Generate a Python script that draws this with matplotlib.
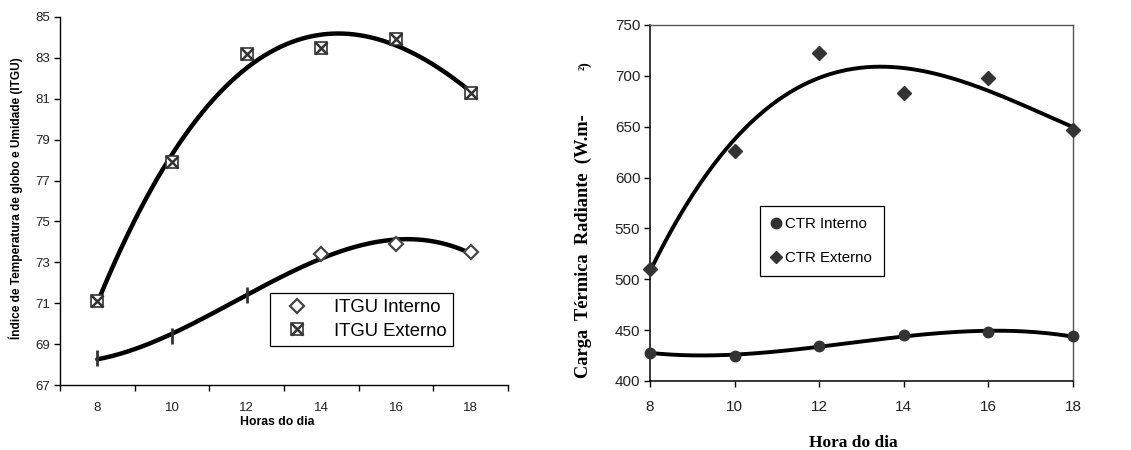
import numpy as np
import matplotlib
matplotlib.use("Agg")
import matplotlib.pyplot as plt
from matplotlib.legend_handler import HandlerTuple
from matplotlib.lines import Line2D

hours = [8, 10, 12, 14, 16, 18]

# Left chart: ITGU
itgu_interno = [68.3, 69.4, 71.4, 73.4, 73.9, 73.5]
itgu_externo = [71.1, 77.9, 83.2, 83.5, 83.9, 81.3]
itgu_yticks = [67, 69, 71, 73, 75, 77, 79, 81, 83, 85]

# Right chart: CTR
ctr_interno = [428, 425, 434, 445, 448, 444]
ctr_externo = [510, 626, 722, 683, 698, 647]
ctr_yticks = [400, 450, 500, 550, 600, 650, 700, 750]

W, H = 1131, 450
fig = plt.figure(figsize=(W / 100, H / 100), dpi=100)

sans = ["Liberation Sans", "DejaVu Sans"]
serif = ["Liberation Serif", "DejaVu Serif"]

def trend(x, y, deg=3):
    c = np.polyfit(x, y, deg)
    xs = np.linspace(min(x), max(x), 200)
    return xs, np.polyval(c, xs)

# ---------- Left axes ----------
ax1 = fig.add_axes([60 / W, 1 - 385 / H, 448 / W, 368 / H])
x = np.array(hours, dtype=float)
xs, ys = trend(x, itgu_externo)
ax1.plot(xs, ys, color="black", lw=3.2, solid_capstyle="round", zorder=2)
xs, ys = trend(x, itgu_interno)
ax1.plot(xs, ys, color="black", lw=3.2, solid_capstyle="round", zorder=2)

# Interno markers: diamonds (first three rendered as vertical bars in the reference)
ax1.plot(x[:3], itgu_interno[:3], ls="none", marker="|", ms=11, mew=2.0, color="#333333", zorder=3)
ax1.plot(x[3:], itgu_interno[3:], ls="none", marker="D", ms=7.5, mfc="white", mec="#444444", mew=1.6, zorder=3)
# Externo markers: square with X
ax1.plot(x, itgu_externo, ls="none", marker="s", ms=8, mfc="white", mec="#333333", mew=1.2, zorder=3)
ax1.plot(x, itgu_externo, ls="none", marker="x", ms=8, mec="#333333", mew=1.8, zorder=4)

ax1.set_xlim(7, 19)
ax1.set_ylim(67, 85)
ax1.set_yticks(itgu_yticks)
ax1.set_xticks([7, 9, 11, 13, 15, 17, 19])
ax1.set_xticklabels([])
ax1.set_xticks(hours, minor=True)
ax1.set_xticklabels([str(h) for h in hours], minor=True)
ax1.tick_params(axis="x", which="major", direction="out", length=4, width=1)
ax1.tick_params(axis="x", which="minor", length=0, pad=12, labelsize=9.5)
ax1.tick_params(axis="y", direction="out", length=4, width=1, labelsize=9.5, pad=3)
for lab in ax1.get_xticklabels(minor=True) + ax1.get_yticklabels():
    lab.set_family(sans)
    lab.set_color("#222222")
for s in ["top", "right"]:
    ax1.spines[s].set_visible(False)
for s in ["left", "bottom"]:
    ax1.spines[s].set_linewidth(1.0)
ax1.text(0.485, -0.1, "Horas do dia", transform=ax1.transAxes, ha="center", va="center",
         fontsize=8.8, fontweight="bold", family=sans)
fig.text(16 / W, 1 - 198 / H, "Índice de Temperatura de globo e Umidade (ITGU)", rotation=90,
         ha="center", va="center", fontsize=8.6, fontweight="bold", family=sans)

h_int = Line2D([], [], ls="none", marker="D", ms=7.5, mfc="white", mec="#444444", mew=1.6)
h_ext1 = Line2D([], [], ls="none", marker="s", ms=8, mfc="white", mec="#333333", mew=1.2)
h_ext2 = Line2D([], [], ls="none", marker="x", ms=8, mec="#333333", mew=1.8)
leg1 = ax1.legend(handles=[h_int, (h_ext1, h_ext2)], labels=["ITGU Interno", "ITGU Externo"],
                  handler_map={tuple: HandlerTuple(ndivide=1, pad=0)},
                  loc="upper left", bbox_to_anchor=(270 / W, 1 - 293 / H), bbox_transform=fig.transFigure,
                  prop={"family": sans, "size": 13.3}, frameon=True, fancybox=False, framealpha=1,
                  edgecolor="black", borderpad=0.35, handlelength=2.2, handletextpad=0.9,
                  labelspacing=0.35, borderaxespad=0)
leg1.get_frame().set_linewidth(0.9)

# ---------- Right axes ----------
ax2 = fig.add_axes([650 / W, 1 - 381 / H, 423 / W, 356 / H])
xs, ys = trend(x, ctr_externo)
ax2.plot(xs, ys, color="black", lw=2.8, zorder=2)
xs, ys = trend(x, ctr_interno)
ax2.plot(xs, ys, color="black", lw=2.8, zorder=2)
ax2.plot(x, ctr_interno, ls="none", marker="o", ms=7.5, color="#333333", zorder=3, clip_on=False)
ax2.plot(x, ctr_externo, ls="none", marker="D", ms=7, color="#333333", zorder=3, clip_on=False)

ax2.set_xlim(8, 18)
ax2.set_ylim(400, 750)
ax2.set_xticks(hours)
ax2.set_yticks(ctr_yticks)
ax2.tick_params(direction="out", length=4, width=1, labelsize=11)
ax2.tick_params(axis="x", pad=10)
ax2.tick_params(axis="y", pad=3)
for lab in ax2.get_xticklabels() + ax2.get_yticklabels():
    lab.set_family(sans)
    lab.set_color("#222222")
for s in ["top", "right"]:
    ax2.spines[s].set_color("#555555")
    ax2.spines[s].set_linewidth(1.0)
for s in ["left", "bottom"]:
    ax2.spines[s].set_linewidth(1.1)
ax2.text(0.48, -0.175, "Hora do dia", transform=ax2.transAxes, ha="center", va="center",
         fontsize=12.5, fontweight="bold", family=serif)
fig.text(583 / W, 1 - 246 / H, "Carga  Térmica  Radiante  (W.m-", rotation=90,
         ha="center", va="center", fontsize=13.2, fontweight="bold", family=serif)
fig.text(585 / W, 1 - 66 / H, "²)", rotation=90,
         ha="center", va="center", fontsize=10, fontweight="bold", family=serif)

leg2 = ax2.legend(handles=[Line2D([], [], ls="none", marker="o", ms=7.5, color="#333333"),
                           Line2D([], [], ls="none", marker="D", ms=6.5, color="#333333")],
                  labels=["CTR Interno", "CTR Externo"],
                  loc="upper left", bbox_to_anchor=(760 / W, 1 - 206 / H), bbox_transform=fig.transFigure,
                  prop={"family": sans, "size": 10.8}, frameon=True, fancybox=False, framealpha=1,
                  edgecolor="black", borderpad=0.75, handlelength=0.6, handletextpad=0.35,
                  borderaxespad=0, labelspacing=1.3)
leg2.get_frame().set_linewidth(0.9)
leg2._legend_box.sep = 0

fig.savefig("out.png", dpi=100)
